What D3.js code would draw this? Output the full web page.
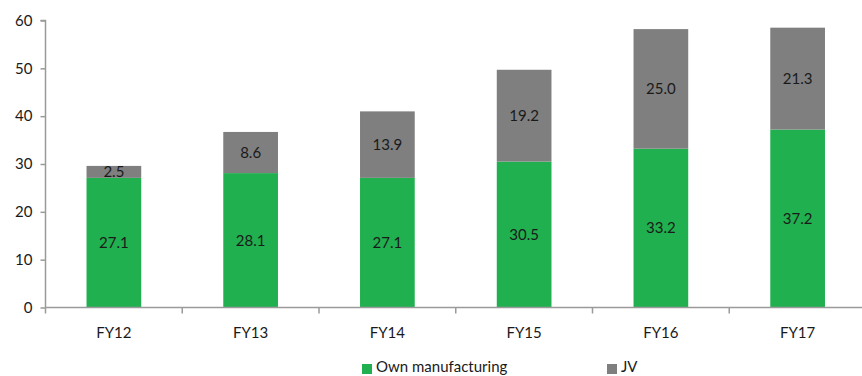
<!DOCTYPE html>
<html><head><meta charset="utf-8">
<script src="https://cdn.jsdelivr.net/npm/d3@7"></script>
<style>
body{margin:0;background:#fff;}
svg{display:block;font-family:Lato,"Open Sans",sans-serif;}
</style></head>
<body>
<svg id="chart" width="862" height="376"></svg>
<script>
const categories = ["FY12","FY13","FY14","FY15","FY16","FY17"];
const ownManufacturing = [27.1, 28.1, 27.1, 30.5, 33.2, 37.2];
const jv = [2.5, 8.6, 13.9, 19.2, 25.0, 21.3];
const yTicks = [0,10,20,30,40,50,60];
const seriesNames = ["Own manufacturing","JV"];
const colors = ["#21B04F","#7F7F7F"];

const svg = d3.select("#chart");
const x = d3.scaleBand().domain(categories).range([45.5, 866]).paddingInner(0.6).paddingOuter(0.3);
const y = d3.scaleLinear().domain([0,60]).range([307.5, 20.5]);

const data = categories.map((c,i)=>({cat:c, own:ownManufacturing[i], jv:jv[i]}));
const stack = d3.stack().keys(["own","jv"])(data);

stack.forEach((layer,li)=>{
  svg.append("g").selectAll("rect").data(layer).join("rect")
    .attr("x", d=>x(d.data.cat))
    .attr("width", x.bandwidth())
    .attr("y", d=>y(d[1]))
    .attr("height", d=>y(d[0])-y(d[1]))
    .attr("fill", colors[li]);
  svg.append("g").selectAll("text").data(layer).join("text")
    .attr("x", d=>x(d.data.cat)+x.bandwidth()/2)
    .attr("y", d=>(y(d[0])+y(d[1]))/2)
    .attr("dy","0.36em")
    .attr("text-anchor","middle")
    .attr("font-size",15)
    .attr("fill","#1a1a1a")
    .text(d=>(d[1]-d[0]).toFixed(1));
});

// y axis
const yAxis = svg.append("g").attr("transform","translate(45.5,0)")
  .call(d3.axisLeft(y).tickValues(yTicks).tickSize(5).tickPadding(8).tickFormat(d3.format("d")));
yAxis.select(".domain").attr("stroke","#9a9a9a").attr("stroke-width",1.5).attr("d","M-5,20.5H0V307.5");
yAxis.selectAll(".tick line").attr("stroke","#9a9a9a").attr("stroke-width",1.5);
yAxis.selectAll(".tick text").attr("font-size",15).attr("fill","#1a1a1a").attr("font-family","Lato,sans-serif");

// x axis
const xAxisG = svg.append("g").attr("transform","translate(0,307.5)");
xAxisG.append("line").attr("x1",45.5).attr("x2",866).attr("stroke","#9a9a9a").attr("stroke-width",1.5);
const bounds = d3.range(categories.length+1).map(i=>45.5+i*((866-45.5)/categories.length));
xAxisG.selectAll("line.t").data(bounds).join("line").attr("class","t")
  .attr("x1",d=>d).attr("x2",d=>d).attr("y1",0).attr("y2",6)
  .attr("stroke","#9a9a9a").attr("stroke-width",1.5);
xAxisG.selectAll("text").data(categories).join("text")
  .attr("x", d=>x(d)+x.bandwidth()/2)
  .attr("y", 30)
  .attr("text-anchor","middle")
  .attr("font-size",15)
  .attr("fill","#1a1a1a")
  .text(d=>d);

// legend
const legendX = [362, 607];
const lg = svg.append("g");
seriesNames.forEach((n,i)=>{
  lg.append("rect").attr("x",legendX[i]).attr("y",364).attr("width",10).attr("height",10).attr("fill",colors[i]);
  lg.append("text").attr("x",legendX[i]+14).attr("y",372).attr("font-size",15).attr("fill","#1a1a1a").text(n);
});
</script>
</body></html>
